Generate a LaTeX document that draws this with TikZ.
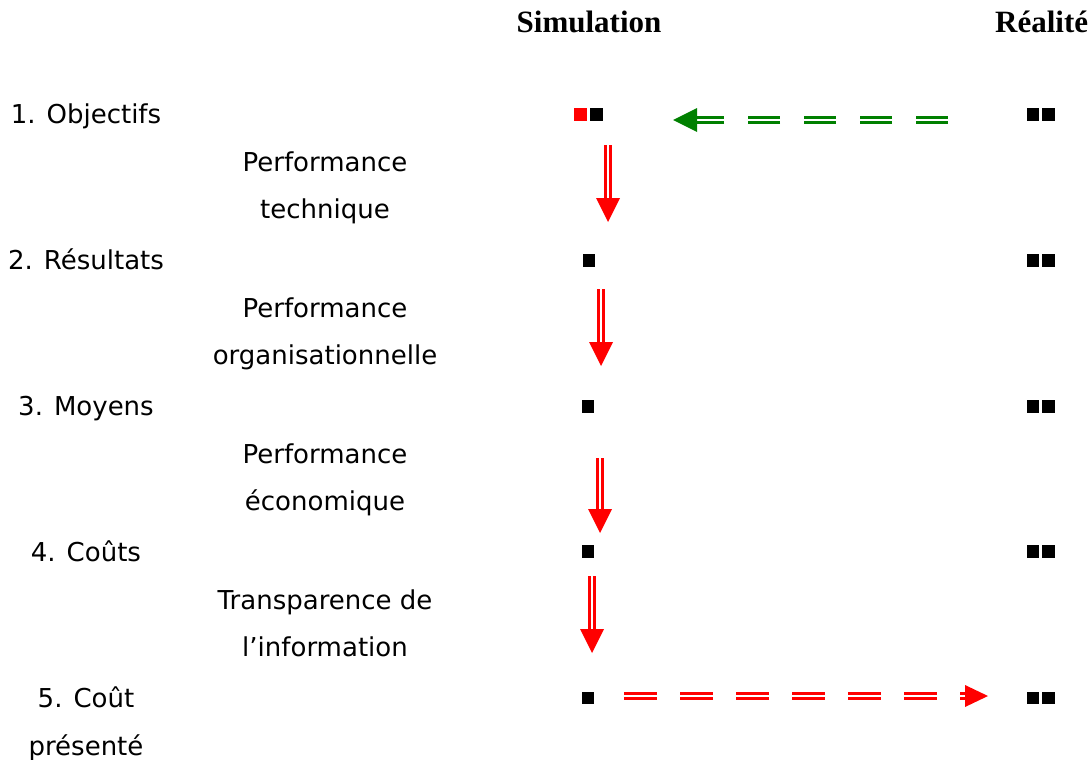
\documentclass[tikz,border=0pt]{standalone}
\usepackage{fontspec}
\newfontfamily\lblfont{DejaVu Sans}
\newfontfamily\headfont{Liberation Serif}
\usetikzlibrary{arrows.meta,calc}
\definecolor{vert}{HTML}{008000}
\tikzset{
  lbl/.style={font=\lblfont\fontsize{26}{30}\selectfont,inner sep=0pt,anchor=base},
  titre/.style={font=\headfont\bfseries\fontsize{31}{36}\selectfont,inner sep=0pt},
  sq/.style={fill=#1,minimum size=12.5pt,inner sep=0pt},
  sq/.default=black,
  shaft/.style={draw=#1,line width=3pt,double=white,double distance=2.5pt},
  tirets/.style={dash pattern=on 32pt off 24pt}
}

\begin{document}
\begin{tikzpicture}[x=1pt,y=-1pt]
  \useasboundingbox (0,0) rectangle (1092,760);
  % titres
  \node[titre,anchor=base] (simu) at (589,33) {Simulation};
  \node[titre,anchor=base west] (real) at (995,33) {Réalité};
  % etapes
  \node[lbl] (obj) at (86,123) {1. Objectifs};
  \node[lbl] (res) at (86,269) {2. Résultats};
  \node[lbl] (moy) at (86,415) {3. Moyens};
  \node[lbl] (cou) at (86,561) {4. Coûts};
  \node[lbl] (cpa) at (86,707) {5. Coût};
  \node[lbl] (cpb) at (86,755) {présenté};
  % performances
  \node[lbl] (techa) at (325,171) {Performance};
  \node[lbl] (techb) at (325,218) {technique};
  \node[lbl] (orga) at (325,317) {Performance};
  \node[lbl] (orgb) at (325,364) {organisationnelle};
  \node[lbl] (ecoa) at (325,463) {Performance};
  \node[lbl] (ecob) at (325,510) {économique};
  \node[lbl] (infa) at (325,609) {Transparence de};
  \node[lbl] (infb) at (325,656) {l’information};
  % carres
  \node[sq=red] (s1a) at (580.5,114.5) {};
  \node[sq] (s1b) at (596.5,114.5) {};
  \node[sq] (s2) at (589,260.5) {};
  \node[sq] (s3) at (588,406.5) {};
  \node[sq] (s4) at (588,551.5) {};
  \node[sq] (s5) at (588,698) {};
  \foreach \i/\y in {1/114.5,2/260.5,3/406.5,4/551.5,5/698}{
    \node[sq] (r\i a) at (1033,\y) {};
    \node[sq] (r\i b) at (1048.5,\y) {};
  }
  % fleches
  \coordinate (g0) at (948,120);
  \coordinate (g1) at (697,120);
  \coordinate (gt) at (673,120);
  \draw[shaft=vert,tirets] (g0) -- (g1);
  \fill[vert] (gt) -- ++(24,-12) -- ++(0,24) -- cycle;
  \coordinate (h0) at (624,696);
  \coordinate (h1) at (965,696);
  \coordinate (ht) at (988,696);
  \draw[shaft=red,dash pattern=on 33pt off 23pt] (h0) -- (h1);
  \fill[red] (ht) -- ++(-23,-11) -- ++(0,22) -- cycle;
  \foreach \n/\x/\a/\t in {1/608/145/222,2/601/289/366,3/600/458/533,4/592/576/653}{
    \coordinate (v\n a) at (\x,\a);
    \coordinate (v\n b) at (\x,\t-24);
    \coordinate (v\n t) at (\x,\t);
    \draw[shaft=red] (v\n a) -- (v\n b);
    \fill[red] (v\n t) -- ++(-12,-24) -- ++(24,0) -- cycle;
  }
\end{tikzpicture}
\end{document}
